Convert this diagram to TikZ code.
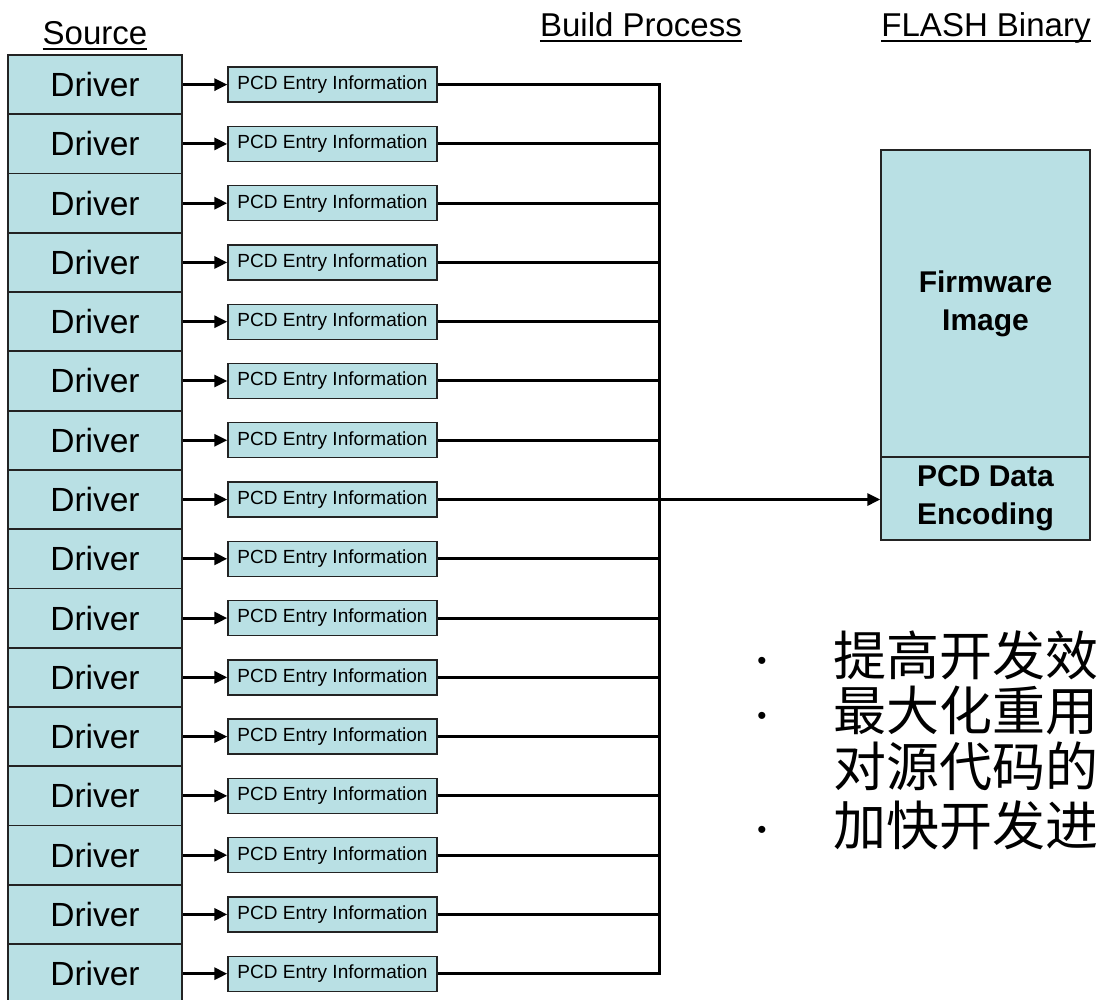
\documentclass[tikz,border=0pt]{standalone}
\usepackage{fontspec}
\setmainfont{Liberation Sans}
\newfontfamily\cjk{Noto Sans CJK SC}
\usetikzlibrary{arrows.meta}
\definecolor{boxfill}{RGB}{185,224,228}
\definecolor{boxline}{RGB}{35,35,35}

\begin{document}
\begin{tikzpicture}[x=1pt,y=-1pt,
  drv/.style={draw=boxline, line width=1.8pt, fill=boxfill,
    minimum width=174pt, minimum height=59.27pt, inner sep=0pt,
    font=\fontsize{33.5}{36}\selectfont},
  pcd/.style={draw=boxline, line width=1.4pt, fill=boxfill,
    minimum width=209pt, minimum height=35pt, inner sep=0pt,
    font=\fontsize{19}{20}\selectfont},
  wire/.style={line width=3pt},
  feed/.style={wire, -{Triangle[length=13pt,width=12pt]}},
  hdr/.style={inner sep=0pt, anchor=base, font=\fontsize{33}{36}\selectfont},
  uline/.style={line width=2pt},
  flash/.style={draw=boxline, line width=1.4pt, fill=boxfill, inner sep=0pt,
    align=center, font=\bfseries\fontsize{30}{38}\selectfont},
  cjkline/.style={inner sep=0pt, anchor=base west, font=\cjk\fontsize{53}{56}\selectfont},
  dotmark/.style={inner sep=0pt, font=\fontsize{26}{28}\selectfont}
]
\useasboundingbox (0,0) rectangle (1099,999);

% column headers
\node[hdr] (hsrc) at (95,44) {Source};
\node[hdr] (hbuild) at (641,36) {Build Process};
\node[hdr] (hflash) at (986,36) {FLASH Binary};
\foreach \h in {hsrc,hbuild,hflash}
  \draw[uline] ([yshift=-5pt]\h.base west) -- ([yshift=-5pt]\h.base east);

% drivers and their PCD entries
\foreach \i in {1,...,16} {
  \node[drv] (d\i) at (95,{55+59.27*(\i-0.5)}) {Driver};
  \node[pcd] (p\i) at (332.5,{55+59.27*(\i-0.5)}) {PCD Entry Information};
  \draw[feed] (d\i.east) -- (p\i.west);
}

% flash image
\node[flash, minimum width=209pt, minimum height=307pt] (fw) at (985.5,303.5) {Firmware\\Image};
\node[flash, minimum width=209pt, minimum height=83pt] (enc) at (985.5,498.5) {PCD Data\\Encoding};

% collecting bus
\coordinate (bus) at (659,500);
\draw[wire] (p1.east) -| (bus |- p16.east) -- (p16.east);
\foreach \i in {2,...,15}
  \draw[wire] (p\i.east) -- (bus |- p\i.east);
\draw[feed] (bus |- p8.east) -- (enc.west |- p8.east);

% benefits
\node[dotmark] (b1) at (762,663) {•};
\node[dotmark] (b2) at (762,718) {•};
\node[dotmark] (b3) at (762,832) {•};
\node[cjkline] (t1) at (833,675) {提高开发效};
\node[cjkline] (t2) at (833,730) {最大化重用};
\node[cjkline] (t3) at (833,786) {对源代码的};
\node[cjkline] (t4) at (833,845) {加快开发进};
\end{tikzpicture}
\end{document}
